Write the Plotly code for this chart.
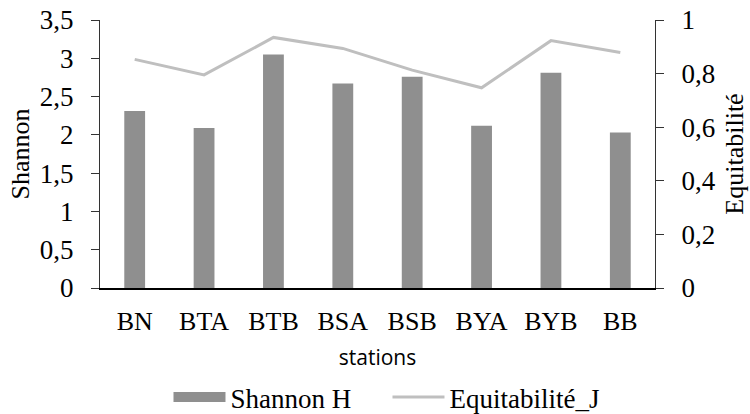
import plotly.graph_objects as go

# Diversity indices per sampling station
stations = ["BN", "BTA", "BTB", "BSA", "BSB", "BYA", "BYB", "BB"]
shannon_h = [2.31, 2.09, 3.05, 2.67, 2.76, 2.12, 2.81, 2.03]
equitabilite_j = [0.853, 0.795, 0.935, 0.894, 0.813, 0.747, 0.923, 0.879]

serif = "Liberation Serif"
sans = "Open Sans"
bar_color = "#8f8f8f"
line_color = "#bfbfbf"

fig = go.Figure()
fig.add_trace(go.Bar(
    x=stations, y=shannon_h, name="Shannon H",
    marker=dict(color=bar_color, line=dict(width=0)),
    yaxis="y", showlegend=False,
))
# legend entry drawn as a wide filled swatch for the bars
fig.add_trace(go.Scatter(
    x=[None], y=[None], name="Shannon H", mode="lines",
    line=dict(color=bar_color, width=13), yaxis="y",
))
fig.add_trace(go.Scatter(
    x=stations, y=equitabilite_j, name="Equitabilité_J",
    mode="lines", line=dict(color=line_color, width=3),
    yaxis="y2",
))

fig.update_layout(
    width=750, height=414,
    margin=dict(l=100, r=95, t=20, b=126, autoexpand=False),
    paper_bgcolor="white", plot_bgcolor="white",
    separators=", ",
    bargap=0.7,
    showlegend=True,
    legend=dict(
        orientation="h", x=0.518, xanchor="center",
        yref="container", y=0.04, yanchor="middle",
        font=dict(family=serif, size=27, color="black"),
        itemwidth=52, traceorder="normal",
        tracegroupgap=0, itemsizing="trace",
        entrywidth=152,
    ),
    xaxis=dict(
        showline=True, linecolor="black", linewidth=2,
        ticks="outside", ticklen=9, tickcolor="rgba(0,0,0,0)",
        showgrid=False, automargin=False,
        tickfont=dict(family=serif, size=26, color="black"),
        title=dict(text="stations", font=dict(family=sans, size=21, color="black"), standoff=15),
    ),
    yaxis=dict(
        range=[0, 3.5], dtick=0.5, tickformat=".1~f",
        showline=True, linecolor="#333", linewidth=1,
        ticks="outside", ticklen=8, tickcolor="#333",
        ticklabelstandoff=12,
        showgrid=False, zeroline=False, automargin=False,
        tickfont=dict(family=serif, size=27, color="black"),
        title=dict(text="Shannon", font=dict(family=serif, size=26, color="black"), standoff=2),
    ),
    yaxis2=dict(
        range=[0, 1], dtick=0.2, tickformat=".1~f",
        overlaying="y", side="right",
        showline=True, linecolor="#333", linewidth=1,
        ticks="outside", ticklen=8, tickcolor="#333",
        ticklabelstandoff=12,
        showgrid=False, zeroline=False, automargin=False,
        tickfont=dict(family=serif, size=27, color="black"),
        title=dict(text="Equitabilité", font=dict(family=serif, size=26, color="black"), standoff=10),
    ),
)

fig.write_html("out.html")
